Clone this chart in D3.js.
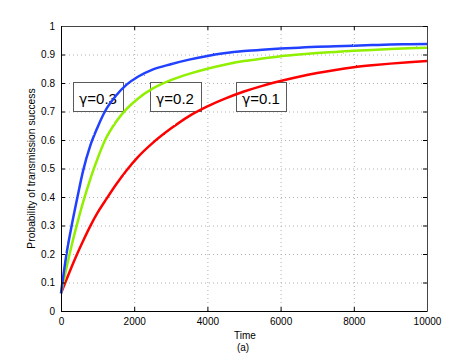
<!DOCTYPE html>
<html><head><meta charset="utf-8">
<script src="https://cdn.jsdelivr.net/npm/d3@7/dist/d3.min.js"></script>
<style>
body{margin:0;background:#fff;}
svg{display:block;font-family:"Liberation Sans",Arial,Helvetica,sans-serif;}
</style></head><body>
<svg id="c" width="471" height="354"></svg>
<script>
// ---- data ----
const time = [0,150,300,450,600,800,1000,1200,1500,1800,2100,2500,3000,3500,4000,4500,5000,5500,6000,6500,7000,7500,8000,8500,9000,9500,10000];
const gamma03 = [0.062,0.200,0.305,0.400,0.490,0.580,0.645,0.700,0.755,0.795,0.822,0.847,0.866,0.882,0.895,0.905,0.912,0.917,0.921,0.924,0.927,0.929,0.931,0.933,0.935,0.936,0.937];
const gamma02 = [0.062,0.152,0.235,0.310,0.380,0.463,0.535,0.598,0.663,0.710,0.745,0.780,0.810,0.832,0.850,0.865,0.877,0.886,0.894,0.900,0.905,0.909,0.913,0.916,0.919,0.922,0.924];
const gamma01 = [0.062,0.110,0.158,0.203,0.245,0.298,0.345,0.385,0.443,0.495,0.540,0.589,0.640,0.684,0.718,0.746,0.770,0.790,0.807,0.822,0.835,0.846,0.855,0.862,0.868,0.873,0.877];
const seriesNames = ["γ=0.3","γ=0.2","γ=0.1"];
const xTicks = [0,2000,4000,6000,8000,10000];
const yTicks = [0,0.1,0.2,0.3,0.4,0.5,0.6,0.7,0.8,0.9,1];
const xLabel = "Time";
const yLabel = "Probability of transmission success";
const caption = "(a)";

// ---- layout ----
const svg = d3.select("#c");
const x = d3.scaleLinear().domain([0,10000]).range([61,427]);
const y = d3.scaleLinear().domain([0,1]).range([311,26]);

const defs = svg.append("defs");
const f = defs.append("filter").attr("id","rough").attr("x","-5%").attr("y","-5%").attr("width","110%").attr("height","110%");
f.append("feTurbulence").attr("type","fractalNoise").attr("baseFrequency","0.9").attr("numOctaves",1).attr("seed",3).attr("result","n");
f.append("feDisplacementMap").attr("in","SourceGraphic").attr("in2","n").attr("scale",1.8).attr("xChannelSelector","R").attr("yChannelSelector","G");

// grid
const grid = svg.append("g").attr("stroke","#b0b0b0").attr("stroke-width",1).attr("stroke-dasharray","1,3");
xTicks.slice(1,-1).forEach(t=>{
  grid.append("line").attr("x1",x(t)+0.5).attr("x2",x(t)+0.5).attr("y1",y(0)).attr("y2",y(1));
});
yTicks.slice(1,-1).forEach(v=>{
  grid.append("line").attr("x1",x(0)).attr("x2",x(10000)).attr("y1",y(v)+0.5).attr("y2",y(v)+0.5);
});

// label boxes (anchor in data coords)
const boxes = [
  {name:seriesNames[0], t0:320, t1:1690},
  {name:seriesNames[1], t0:2430, t1:3820},
  {name:seriesNames[2], t0:4790, t1:6160}
];
const bg = svg.append("g");
boxes.forEach(b=>{
  const x0 = Math.round(x(b.t0))+0.5, x1 = Math.round(x(b.t1))+0.5;
  const y0 = Math.round(y(0.803))+0.5, y1 = Math.round(y(0.702))+0.5;
  bg.append("rect").attr("x",x0).attr("y",y0).attr("width",x1-x0).attr("height",y1-y0)
    .attr("fill","#fff").attr("stroke","#5a5a5a").attr("stroke-width",1);
  const t = bg.append("text").attr("x",x0+5.5).attr("y",y1-8).attr("font-size",15).attr("fill","#000");
  t.append("tspan").attr("font-family","DejaVu Sans").attr("font-size",14).text(b.name.slice(0,1));
  t.append("tspan").text(b.name.slice(1));
});

// lines
const data = [
  {vals:gamma01,color:"#ff0000"},
  {vals:gamma02,color:"#90f000"},
  {vals:gamma03,color:"#2040ff"}
];
const line = d3.line().x((d,i)=>x(time[i])).y(d=>y(d)).curve(d3.curveMonotoneX);
data.forEach(s=>{
  svg.append("path").attr("d",line(s.vals)).attr("fill","none").attr("stroke",s.color)
    .attr("stroke-width",2.5).attr("filter","url(#rough)");
});

// axes
const fmtY = d=> d===0?"0":(d===1?"1":d3.format(".1f")(d));
const ax = svg.append("g").attr("transform",`translate(0,${y(0)})`)
  .call(d3.axisBottom(x).tickValues(xTicks).tickSizeInner(-4).tickSizeOuter(0).tickPadding(7).tickFormat(d3.format("d")));
const ay = svg.append("g").attr("transform",`translate(${x(0)},0)`)
  .call(d3.axisLeft(y).tickValues(yTicks).tickSizeInner(-4).tickSizeOuter(0).tickPadding(6).tickFormat(fmtY));
const at = svg.append("g").attr("transform",`translate(0,${y(1)})`)
  .call(d3.axisTop(x).tickValues(xTicks).tickSizeInner(-4).tickSizeOuter(0).tickFormat(""));
const ar = svg.append("g").attr("transform",`translate(${x(10000)},0)`)
  .call(d3.axisRight(y).tickValues(yTicks).tickSizeInner(-4).tickSizeOuter(0).tickFormat(""));
[ax,ay,at,ar].forEach(a=>{
  a.selectAll("text").attr("font-size",10).attr("font-family","Liberation Sans, Arial, sans-serif").attr("fill","#000");
  a.select(".domain").attr("stroke","#000");
  a.selectAll(".tick line").attr("stroke","#000");
});
at.select(".domain").attr("stroke","#444");
ar.select(".domain").attr("stroke","#444");

// titles
svg.append("text").attr("x",245).attr("y",339).attr("text-anchor","middle").attr("font-size",10).text(xLabel);
svg.append("text").attr("x",243).attr("y",351).attr("text-anchor","middle").attr("font-size",10).text(caption);
svg.append("text").attr("transform",`translate(35,${(y(0)+y(1))/2}) rotate(-90)`).attr("text-anchor","middle").attr("font-size",10.3).text(yLabel);
</script>
</body></html>
